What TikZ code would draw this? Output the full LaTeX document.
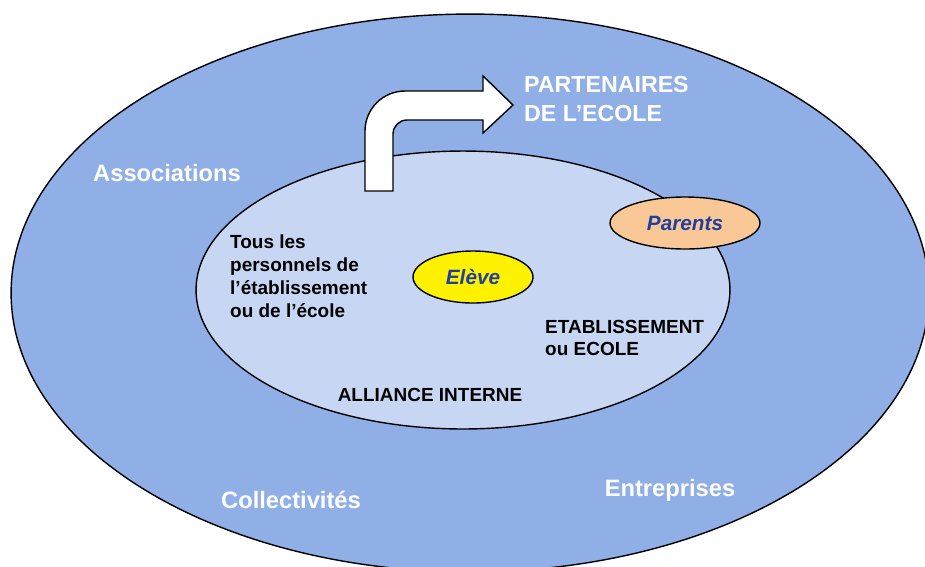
\documentclass[tikz,border=0pt]{standalone}
\usepackage{fontspec}
\setmainfont{Liberation Sans}
\usetikzlibrary{shapes.geometric, positioning}
\definecolor{outerblue}{RGB}{143,175,230}
\definecolor{innerblue}{RGB}{199,214,242}
\definecolor{parentsfill}{RGB}{250,200,150}
\definecolor{namecolor}{RGB}{32,64,160}
\tikzset{
	ring/.style={ellipse, draw=black, line width=0.8pt, inner sep=0pt},
	actor/.style={ellipse, draw=black, line width=0.8pt, inner sep=0pt,
		minimum height=1.04cm, font=\fontsize{11.8}{13}\selectfont\bfseries\itshape, text=namecolor},
	outside/.style={font=\fontsize{13.5}{15}\selectfont\bfseries, text=white},
	inside/.style={font=\fontsize{10.8}{13}\selectfont\bfseries, text=black, align=left},
	baseline}

\begin{document}
\begin{tikzpicture}[x=0.02cm, y=-0.02cm]
		\useasboundingbox (0,0) rectangle (925,566);
		\clip (0,0) rectangle (925,566);
		
		% the two circles of the alliance
		\node[ring, fill=outerblue, minimum width=18.36cm, minimum height=11.16cm] (outer) at (470,293) {};
		\node[ring, fill=innerblue, minimum width=10.68cm, minimum height=5.56cm] (inner) at (463,290) {};
		
		% arrow going out to the partners
		\draw[line width=0.8pt, fill=white]
		(365,191) -- (365,131) arc[start angle=180, end angle=270, radius=40]
		-- (483,91) -- (483,76) -- (513,105) -- (483,133) -- (483,120)
		-- (407,120) arc[start angle=270, end angle=180, radius=14]
		-- (393,191) -- cycle;
		
		\node[actor, fill=parentsfill, minimum width=3cm] (parents) at (685,223) {Parents};
		\node[actor, fill=yellow, minimum width=2.4cm] (eleve) at (473,277) {Elève};
		
		\node[outside, font=\fontsize{13.2}{16.5}\selectfont\bfseries, align=left, anchor=west] (partners) at (518,99) {PARTENAIRES\\DE L’ECOLE};
		\node[outside, anchor=west] (assoc) at (87,173) {Associations};
		\node[outside] (collect) at (291,500) {Collectivités};
		\node[outside] (entrep) at (670,490) {Entreprises};
		
		\node[inside, anchor=west] (staff) at (224,276) {Tous les\\personnels de\\l’établissement\\ou de l’école};
		\node[inside, anchor=west] (school) at (539,338) {ETABLISSEMENT\\ou ECOLE};
		\node[inside] (alliance) at (430,395) {ALLIANCE INTERNE};
		
	\end{tikzpicture}
\end{document}
